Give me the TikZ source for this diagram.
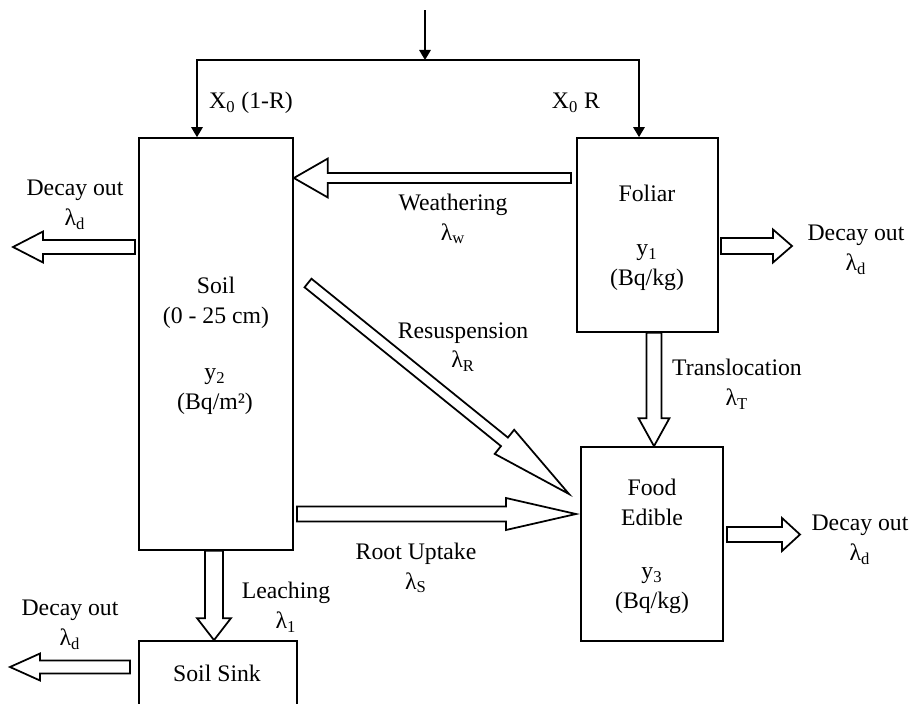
\documentclass[tikz,border=0pt]{standalone}
\usepackage{fontspec}
\setmainfont{Liberation Serif}
\usetikzlibrary{calc,arrows.meta}

% hollow block arrow: from, to, shaft width, head width, head length (px)
\newcommand{\fatarrow}[5]{%
    \coordinate (fa-base) at ($(#2)!#5*0.02cm!(#1)$);
    \draw[fat] ($(#1)!#3*0.01cm!90:(#2)$) -- ($(fa-base)!#3*0.01cm!90:(#2)$)
        -- ($(fa-base)!#4*0.01cm!90:(#2)$) -- (#2)
        -- ($(fa-base)!#4*0.01cm!-90:(#2)$) -- ($(fa-base)!#3*0.01cm!-90:(#2)$)
        -- ($(#1)!#3*0.01cm!-90:(#2)$) -- cycle;
}

\begin{document}
\begin{tikzpicture}[x=0.02cm, y=-0.02cm, line width=1pt,
        every node/.style={font=\fontsize{13.5}{17}\selectfont, align=center, inner sep=0pt},
        compbox/.style={draw, minimum width=#1},
        fat/.style={draw, fill=white, line join=miter},
        feed/.style={-{Triangle[length=5.7pt,width=6.5pt]}}]
    \clip (0,0) rectangle (914,704);
    % compartments
    \node[compbox=3.08cm, minimum height=8.24cm] (soil) at (216,344) {};
    \node[compbox=2.82cm, minimum height=3.88cm] (foliar) at (647.5,235) {};
    \node[compbox=2.84cm, minimum height=3.88cm] (food) at (652,544) {};
    \node[compbox=3.16cm, minimum height=2cm] (sink) at (218,691) {};
    \node (soil-name) at (216,303) {Soil\\(0 - 25 cm)};
    \node (soil-conc) at (215,392) {y\textsubscript{2}\\(Bq/m²)};
    \node (foliar-name) at (647,193) {Foliar};
    \node (foliar-conc) at (647,268) {y\textsubscript{1}\\(Bq/kg)};
    \node (food-name) at (652,502) {Food\\Edible};
    \node (food-conc) at (652,591) {y\textsubscript{3}\\(Bq/kg)};
    \node (sink-name) at (217,673) {Soil Sink};
    % deposition input
    \coordinate (source) at (425,10);
    \coordinate (split) at (425,60);
    \coordinate (soil-in) at (soil.north -| 197,0);
    \coordinate (foliar-in) at (foliar.north -| 639,0);
    \draw[feed] (source) -- (split);
    \draw[feed] (split) -| (soil-in);
    \draw[feed] (split) -| (foliar-in);
    \node (soil-frac) at (251,103) {X\textsubscript{0} (1-R)};
    \node (foliar-frac) at (576,103) {X\textsubscript{0} R};
    % transfers
    \coordinate (weath-start) at (571,178);
    \coordinate (weath-tip) at (soil.east |- weath-start);
    \coordinate (resus-start) at (308,283);
    \coordinate (resus-tip) at (569,494);
    \coordinate (root-start) at (297,514);
    \coordinate (root-tip) at (576,514);
    \coordinate (trans-start) at (foliar.south -| 654,0);
    \coordinate (trans-tip) at (food.north -| 654,0);
    \coordinate (leach-start) at (soil.south -| 214,0);
    \coordinate (leach-tip) at (sink.north -| 214,0);
    \coordinate (soil-out) at (135,247);
    \coordinate (soil-away) at (13,247);
    \coordinate (foliar-out) at (721,246);
    \coordinate (foliar-away) at (792,246);
    \coordinate (food-out) at (727,534.5);
    \coordinate (food-away) at (800,534.5);
    \coordinate (sink-out) at (130,667);
    \coordinate (sink-away) at (10,667);
    \foreach \from/\to/\shaft/\head/\len in {
            weath-start/weath-tip/10/39/34,
            resus-start/resus-tip/11/31/83,
            root-start/root-tip/15/32/70,
            trans-start/trans-tip/15/31/28,
            leach-start/leach-tip/18/34/22,
            soil-out/soil-away/14/31/30,
            foliar-out/foliar-away/16/33/19,
            food-out/food-away/15/33/18,
            sink-out/sink-away/13/27/30} {
        \fatarrow{\from}{\to}{\shaft}{\head}{\len}
    }
    \node (weath-label) at (453,219) {Weathering\\λ\textsubscript{w}};
    \node (resus-label) at (463,347) {Resuspension\\λ\textsubscript{R}};
    \node (root-label) at (416,568) {Root Uptake\\λ\textsubscript{S}};
    \node (leach-label) at (286,607) {Leaching\\λ\textsubscript{1}};
    \node (trans-label) at (737,384) {Translocation\\λ\textsubscript{T}};
    \foreach \name/\x/\y in {soil/75/205, foliar/856/250, food/860/540, sink/70/625}
        \node (decay-\name) at (\x,\y) {Decay out\\λ\textsubscript{d}};
\end{tikzpicture}
\end{document}
